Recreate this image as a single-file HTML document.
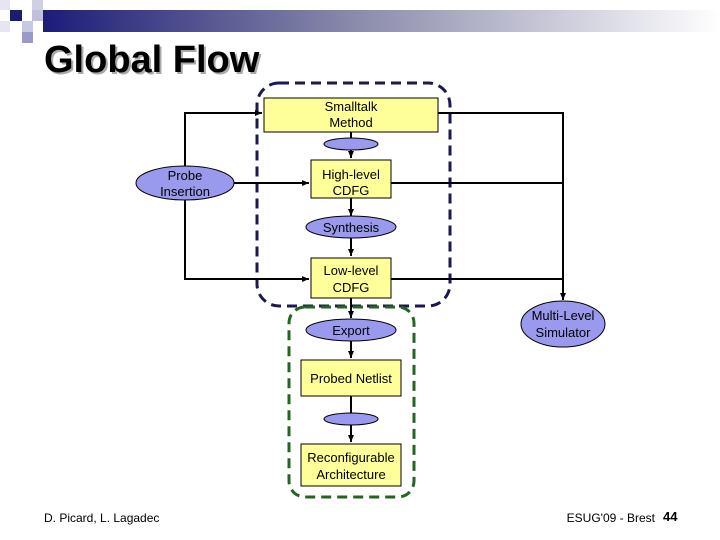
<!DOCTYPE html>
<html><head><meta charset="utf-8"><style>
html,body{margin:0;padding:0;background:#fff;}
svg{display:block;}
text{font-family:"Liberation Sans",Arial,sans-serif;}
</style></head><body>
<svg width="720" height="540" viewBox="0 0 720 540" xmlns="http://www.w3.org/2000/svg">
<defs>
<linearGradient id="g" x1="0" x2="1" y1="0" y2="0">
<stop offset="0" stop-color="#1c1c78"/><stop offset="0.45" stop-color="#8888aa"/><stop offset="1" stop-color="#ffffff"/>
</linearGradient>
<marker id="a" markerWidth="8" markerHeight="8" refX="7" refY="4" orient="auto" markerUnits="userSpaceOnUse">
<path d="M0,1 L7,4 L0,7 z" fill="#000"/></marker>
</defs>
<rect x="43" y="10" width="677" height="22" fill="url(#g)"/>
<rect x="0" y="0" width="10" height="10" fill="#e6e6f2"/>
<rect x="32" y="0" width="11" height="10" fill="#d0d0e4"/>
<rect x="10" y="10" width="12" height="11" fill="#1c1c78"/>
<rect x="32" y="10" width="11" height="11" fill="#c0c0dc"/>
<rect x="0" y="21" width="10" height="11" fill="#e6e6f2"/>
<rect x="22" y="21" width="11" height="11" fill="#c8c8e0"/>
<rect x="22" y="32" width="11" height="11" fill="#9a9ac8"/>
<text x="46" y="74" font-size="38" font-weight="bold" fill="#aaa">Global Flow</text>
<text x="44" y="72" font-size="38" font-weight="bold" fill="#000">Global Flow</text>
<rect x="257" y="83" width="193" height="223" rx="22" fill="none" stroke="#1a1a50" stroke-width="3" stroke-dasharray="10,6"/>
<rect x="289" y="307" width="125" height="190" rx="16" fill="none" stroke="#226622" stroke-width="3" stroke-dasharray="10,6"/>
<g stroke="#000" stroke-width="2" fill="none">
<path d="M185 166 V113 H262" marker-end="url(#a)"/>
<path d="M234 183 H309" marker-end="url(#a)"/>
<path d="M185 200 V279 H309" marker-end="url(#a)"/>
<path d="M438 113 H563 V300" marker-end="url(#a)"/>
<path d="M391 183 H563"/>
<path d="M391 279 H563"/>
<path d="M351 132 V138"/>
<path d="M351 150 V158" marker-end="url(#a)"/>
<path d="M351 198 V216" marker-end="url(#a)"/>
<path d="M351 238 V256" marker-end="url(#a)"/>
<path d="M351 298 V318" marker-end="url(#a)"/>
<path d="M351 341 V358" marker-end="url(#a)"/>
<path d="M351 396 V413"/>
<path d="M351 425 V442" marker-end="url(#a)"/>
</g>
<g stroke="#000" stroke-width="1" font-size="13" text-anchor="middle">
<rect x="264" y="98" width="174" height="34" fill="#ffff99"/>
<ellipse cx="351" cy="144" rx="27" ry="6" fill="#9999ee"/>
<rect x="311" y="160" width="80" height="38" fill="#ffff99"/>
<ellipse cx="351" cy="227" rx="45" ry="11" fill="#9999ee"/>
<rect x="311" y="258" width="80" height="40" fill="#ffff99"/>
<ellipse cx="185" cy="183" rx="49" ry="17" fill="#9999ee"/>
<ellipse cx="563" cy="324" rx="42" ry="23" fill="#9999ee"/>
<ellipse cx="351" cy="330" rx="45" ry="11" fill="#9999ee"/>
<rect x="301" y="360" width="100" height="36" fill="#ffff99"/>
<ellipse cx="351" cy="419" rx="27" ry="6" fill="#9999ee"/>
<rect x="301" y="444" width="100" height="42" fill="#ffff99"/>
</g>
<g font-size="13" text-anchor="middle" fill="#000">
<text x="351" y="111">Smalltalk</text><text x="351" y="127">Method</text>
<text x="351" y="179">High-level</text><text x="351" y="195">CDFG</text>
<text x="351" y="232">Synthesis</text>
<text x="351" y="275">Low-level</text><text x="351" y="292">CDFG</text>
<text x="185" y="180">Probe</text><text x="185" y="196">Insertion</text>
<text x="563" y="320">Multi-Level</text><text x="563" y="337">Simulator</text>
<text x="351" y="335">Export</text>
<text x="351" y="383">Probed Netlist</text>
<text x="351" y="462">Reconfigurable</text><text x="351" y="479">Architecture</text>
</g>
<text x="44" y="522" font-size="12" fill="#000">D. Picard, L. Lagadec</text>
<text x="655" y="522" font-size="12" text-anchor="end" fill="#000">ESUG'09 - Brest</text>
<text x="663" y="521" font-size="13" font-weight="bold" fill="#000">44</text>
</svg>
</body></html>
